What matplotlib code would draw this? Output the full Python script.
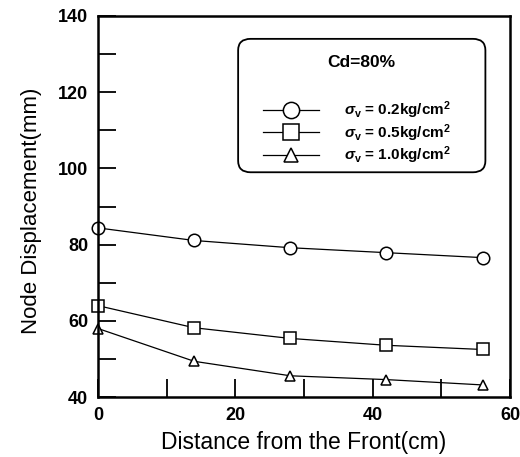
import matplotlib
matplotlib.use("Agg")
import matplotlib.pyplot as plt
from matplotlib.patches import FancyBboxPatch
from matplotlib.ticker import MultipleLocator

plt.rcParams['font.family'] = ['Liberation Sans', 'DejaVu Sans']
plt.rcParams['mathtext.fontset'] = 'custom'
plt.rcParams['mathtext.rm'] = 'Liberation Sans:bold'
plt.rcParams['mathtext.it'] = 'Liberation Sans:italic:bold'
plt.rcParams['mathtext.bf'] = 'Liberation Sans:bold'

distance = [0, 14, 28, 42, 56]
disp_02 = [84.4, 81.1, 79.2, 77.9, 76.6]
disp_05 = [64.0, 58.2, 55.4, 53.6, 52.5]
disp_10 = [58.0, 49.4, 45.6, 44.6, 43.2]
labels = [r'$\sigma_\mathrm{v}$ = 0.2kg/cm$^\mathrm{2}$',
          r'$\sigma_\mathrm{v}$ = 0.5kg/cm$^\mathrm{2}$',
          r'$\sigma_\mathrm{v}$ = 1.0kg/cm$^\mathrm{2}$']
title = "Cd=80%"

fig = plt.figure(figsize=(5.2, 4.57), dpi=100)
ax = fig.add_axes([0.1885, 0.131, 0.7925, 0.834])

h1, = ax.plot(distance, disp_02, color='black', lw=0.9, marker='o', ms=9,
              mfc='white', mec='black', mew=1.1)
h2, = ax.plot(distance, disp_05, color='black', lw=0.9, marker='s', ms=9,
              mfc='white', mec='black', mew=1.1)
h3, = ax.plot(distance, disp_10, color='black', lw=0.9, marker='^', ms=7.5,
              mfc='white', mec='black', mew=1.1)
for h in (h1, h2, h3):
    h.set_clip_on(False)

ax.set_xlim(0, 60)
ax.set_ylim(40, 140)
ax.xaxis.set_major_locator(MultipleLocator(20))
ax.xaxis.set_minor_locator(MultipleLocator(10))
ax.yaxis.set_major_locator(MultipleLocator(20))
ax.yaxis.set_minor_locator(MultipleLocator(10))
ax.tick_params(which='both', direction='in', length=13, width=1.3,
               top=False, right=False, labelsize=13, pad=7)
for lab in ax.get_xticklabels() + ax.get_yticklabels():
    lab.set_fontweight('bold')
for s in ax.spines.values():
    s.set_linewidth(1.8)

ax.set_xlabel('Distance from the Front(cm)', fontsize=16.5, labelpad=5)
ax.set_ylabel('Node Displacement(mm)', fontsize=16)
ax.yaxis.set_label_coords(-0.135, 0.488)

# legend box
box = FancyBboxPatch((0.34, 0.59), 0.60, 0.35, transform=ax.transAxes,
                     boxstyle='round,pad=0,rounding_size=0.03',
                     fc='white', ec='black', lw=1.3, zorder=5)
ax.add_patch(box)
ax.text(0.64, 0.877, title, transform=ax.transAxes, ha='center', va='center',
        fontsize=12.5, fontweight='bold', zorder=6)
leg = ax.legend([h1, h2, h3], labels, loc='upper left',
                bbox_to_anchor=(0.40, 0.78), frameon=False, handlelength=3.7,
                labelspacing=0.05, handletextpad=1.6, borderpad=0,
                borderaxespad=0,
                prop={'weight': 'bold', 'size': 11}, markerscale=1.3)
leg.set_zorder(7)

fig.savefig('out.png', dpi=100)
